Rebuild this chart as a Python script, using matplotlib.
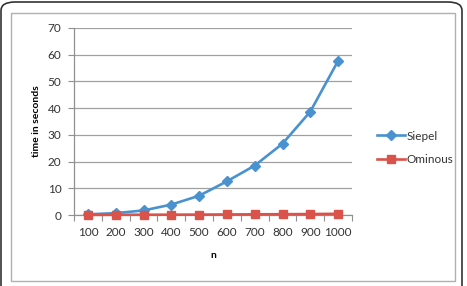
import matplotlib
matplotlib.use("Agg")
import matplotlib.pyplot as plt
from matplotlib.patches import FancyBboxPatch, Rectangle
import numpy as np

categories = ["100", "200", "300", "400", "500", "600", "700", "800", "900", "1000"]
siepel = [0.25, 0.7, 1.7, 3.9, 7.2, 12.6, 18.5, 26.7, 38.7, 57.7]
ominous = [0.05, 0.08, 0.1, 0.12, 0.15, 0.2, 0.25, 0.3, 0.35, 0.45]
yticks = [0, 10, 20, 30, 40, 50, 60, 70]

W, H = 467, 286
fig = plt.figure(figsize=(W / 100, H / 100), dpi=100)
plt.rcParams['font.family'] = ['Lato', 'DejaVu Sans']

# outer rounded frame
fig.patches.append(FancyBboxPatch((1 / W, -20 / H), 461 / W, 304 / H,
                                  boxstyle="round,pad=0,rounding_size=0.03",
                                  transform=fig.transFigure, fill=False,
                                  edgecolor="#333333", linewidth=1.2))
# inner chart area border
fig.patches.append(Rectangle((11 / W, (H - 281) / H), 444 / W, 268 / H,
                             transform=fig.transFigure, fill=False,
                             edgecolor="#b0b0b0", linewidth=1.0))

ax = fig.add_axes([74 / W, (H - 215) / H, 278 / W, 187 / H])
x = np.arange(len(categories))
ax.set_xlim(-0.5, len(categories) - 0.5)
ax.set_ylim(0, 70)
ax.set_yticks(yticks)
ax.set_xticks(x)
ax.set_xticklabels(categories)
ax.set_xticks(np.arange(-0.5, len(categories), 1), minor=True)
ax.tick_params(axis='x', which='major', length=0, pad=9, labelsize=8.5, colors="#333333")
ax.tick_params(axis='x', which='minor', length=4, color="#909090", width=0.8, direction='out')
ax.tick_params(axis='y', length=4, color="#909090", width=0.8, labelsize=8.5, pad=5, labelcolor="#333333")
ax.grid(axis='y', color="#a0a0a0", linewidth=0.9)
ax.set_axisbelow(True)
for s in ['top', 'right']:
    ax.spines[s].set_visible(False)
for s in ['left', 'bottom']:
    ax.spines[s].set_color("#909090")
    ax.spines[s].set_linewidth(0.9)

ax.plot(x, siepel, color="#4a92cf", linewidth=1.9, marker='D', markersize=5,
        label="Siepel", clip_on=False, zorder=3)
ax.plot(x, ominous, color="#d9534a", linewidth=1.9, marker='s', markersize=6,
        label="Ominous", clip_on=False, zorder=4)

ax.set_ylabel("time in seconds", fontsize=7.5, fontweight='bold', labelpad=5)
ax.set_xlabel("n", fontsize=7.5, fontweight='bold', labelpad=9)

leg = ax.legend(loc='center left', bbox_to_anchor=(366 / W, (H - 148) / H),
                bbox_transform=fig.transFigure, frameon=False, fontsize=8.5,
                handlelength=2.4, handletextpad=0.1, labelspacing=1.1)
for t in leg.get_texts():
    t.set_color("#333333")

fig.savefig("out.png", dpi=100)
